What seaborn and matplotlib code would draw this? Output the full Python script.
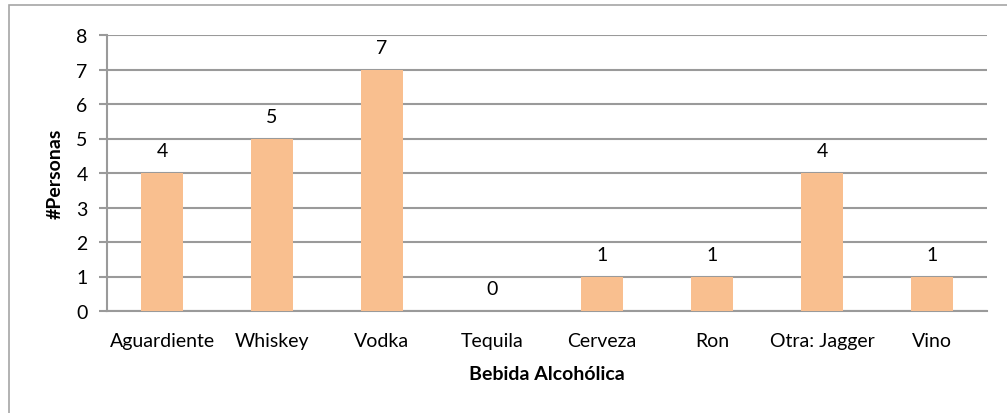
import matplotlib
matplotlib.use("Agg")
import matplotlib.pyplot as plt
import seaborn as sns
import pandas as pd
from matplotlib.patches import Rectangle

bebidas = ["Aguardiente", "Whiskey", "Vodka", "Tequila", "Cerveza", "Ron", "Otra: Jagger", "Vino"]
personas = [4, 5, 7, 0, 1, 1, 4, 1]
y_ticks = [0, 1, 2, 3, 4, 5, 6, 7, 8]

sns.set_theme(style="white")
plt.rcParams["font.family"] = ["Lato", "DejaVu Sans"]

df = pd.DataFrame({"Bebida": bebidas, "Personas": personas})

W, H = 1007, 414
fig = plt.figure(figsize=(W / 100, H / 100), dpi=100)
ax = fig.add_axes([107 / W, 1 - 312 / H, (987 - 107) / W, (312 - 36) / H])

sns.barplot(data=df, x="Bebida", y="Personas", color="#F9BF8F", saturation=1,
            width=0.39, linewidth=0, edgecolor="none", ax=ax, zorder=3)

grid_c = "#9a9a9a"
ax.set_ylim(0, 8)
ax.set_yticks(y_ticks)
ax.yaxis.grid(True, color=grid_c, linewidth=1.5, zorder=0)
ax.set_axisbelow(True)
for s in ["top", "right"]:
    ax.spines[s].set_visible(False)
for s in ["left", "bottom"]:
    ax.spines[s].set_color(grid_c)
    ax.spines[s].set_linewidth(1.5)
ax.tick_params(axis="y", which="major", left=True, length=6, width=1.5, color=grid_c,
               labelsize=14, labelcolor="black", pad=8)
ax.tick_params(axis="x", bottom=False, labelsize=14, labelcolor="black", pad=9)

for i, v in enumerate(personas):
    ax.annotate(str(v), (i, v), xytext=(0, 10), textcoords="offset points",
                ha="center", va="bottom", fontsize=14, color="black")

ax.set_xlabel("Bebida Alcohólica", fontsize=14, fontweight="bold", color="black", labelpad=12)
ax.set_ylabel("#Personas", fontsize=14, fontweight="bold", color="black", labelpad=9)

# chart-area frame
fig.patches.append(Rectangle((9 / W, -0.1), 1.2, 1 - 6 / H + 0.1, transform=fig.transFigure,
                             fill=False, edgecolor="#a6a6a6", linewidth=1.2, zorder=0))

fig.savefig("out.png", dpi=100)
